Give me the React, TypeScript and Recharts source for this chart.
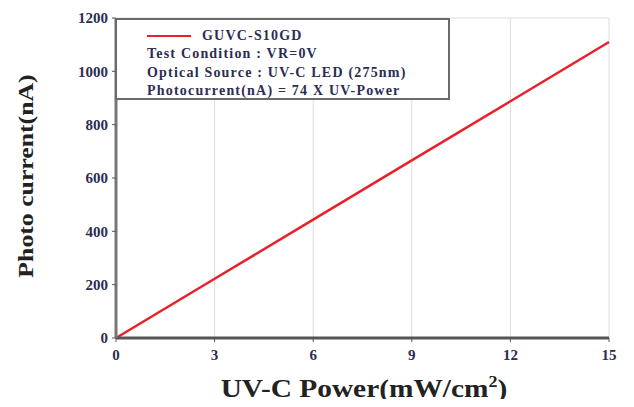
import {
  LineChart,
  Line,
  XAxis,
  YAxis,
  CartesianGrid,
  Legend,
} from "recharts";

const POWER = [0, 3, 6, 9, 12, 15];
const CURRENT = [0, 222, 444, 666, 888, 1110];
const X_TICKS = [0, 3, 6, 9, 12, 15];
const Y_TICKS = [0, 200, 400, 600, 800, 1000, 1200];
const X_MINOR = [1.5, 4.5, 7.5, 10.5, 13.5];
const Y_MINOR = [100, 300, 500, 700, 900, 1100];
const SERIES_NAME = "GUVC-S10GD";
const NOTES = [
  "Test Condition : VR=0V",
  "Optical Source : UV-C LED (275nm)",
  "Photocurrent(nA) = 74 X UV-Power",
];

const FONT = '"Liberation Serif", "Times New Roman", serif';
const INK = "#2b2d52";
const AXIS = "#555";

const data = POWER.map((p, i) => ({ power: p, current: CURRENT[i] }));

function LegendBox() {
  return (
    <div
      style={{
        width: 335,
        height: 82,
        boxSizing: "border-box",
        border: "2px solid #6a6a6a",
        background: "#fff",
        fontFamily: FONT,
        fontWeight: "bold",
        fontSize: 14,
        letterSpacing: 1.2,
        color: INK,
        padding: "7px 0 0 30px",
        lineHeight: "18.3px",
        textAlign: "left",
        whiteSpace: "nowrap",
        overflow: "hidden",
      }}
    >
      <div style={{ display: "flex", alignItems: "center" }}>
        <span
          style={{
            display: "inline-block",
            width: 44,
            height: 2,
            background: "#e8202a",
            marginRight: 11,
          }}
        />
        {SERIES_NAME}
      </div>
      {NOTES.map((n) => (
        <div key={n}>{n}</div>
      ))}
    </div>
  );
}

export default function App() {
  const tickStyle = {
    fill: INK,
    fontFamily: FONT,
    fontWeight: "bold" as const,
    fontSize: 15,
  };
  return (
    <div
      style={{
        position: "relative",
        width: 634,
        height: 407,
        margin: -8,
        background: "#fff",
        overflow: "hidden",
      }}
    >
      <LineChart
        width={634}
        height={407}
        data={data}
        margin={{ top: 18, right: 25, left: 56, bottom: 39 }}
      >
        <CartesianGrid stroke="#dcdcdc" strokeWidth={1} />
        <XAxis
          xAxisId="main"
          dataKey="power"
          type="number"
          domain={[0, 15]}
          ticks={X_TICKS}
          height={30}
          tick={tickStyle}
          tickSize={4}
          tickLine={{ stroke: AXIS }}
          axisLine={{ stroke: AXIS, strokeWidth: 3 }}
          tickMargin={7}
        />
        <XAxis
          xAxisId="minor"
          dataKey="power"
          type="number"
          domain={[0, 15]}
          ticks={X_MINOR}
          height={0}
          mirror
          tickSize={3}
          tickFormatter={() => ""}
          tickLine={{ stroke: AXIS }}
          axisLine={false}
        />
        <XAxis
          xAxisId="top"
          orientation="top"
          dataKey="power"
          type="number"
          domain={[0, 15]}
          height={0}
          tick={false}
          axisLine={{ stroke: "#333", strokeWidth: 2 }}
        />
        <YAxis
          yAxisId="main"
          type="number"
          domain={[0, 1200]}
          ticks={Y_TICKS}
          width={60}
          tick={tickStyle}
          tickSize={4}
          tickLine={{ stroke: AXIS }}
          axisLine={{ stroke: "#777", strokeWidth: 3 }}
          tickMargin={4}
        />
        <YAxis
          yAxisId="minor"
          type="number"
          domain={[0, 1200]}
          ticks={Y_MINOR}
          width={0}
          mirror
          tickSize={3}
          tickFormatter={() => ""}
          tickLine={{ stroke: AXIS }}
          axisLine={false}
        />
        <YAxis
          yAxisId="right"
          orientation="right"
          type="number"
          domain={[0, 1200]}
          ticks={Y_TICKS}
          width={0}
          mirror
          tickSize={4}
          tickFormatter={() => ""}
          tickLine={{ stroke: AXIS }}
          axisLine={{ stroke: "#333", strokeWidth: 2 }}
        />
        <Legend
          verticalAlign="middle"
          align="center"
          layout="horizontal"
          content={() => <LegendBox />}
          wrapperStyle={{ top: 18, left: 115, width: 335, height: 82 }}
        />
        <Line
          xAxisId="main"
          yAxisId="main"
          type="linear"
          dataKey="current"
          name={SERIES_NAME}
          stroke="#e8202a"
          strokeWidth={2.5}
          dot={false}
          isAnimationActive={false}
        />
      </LineChart>
      <div
        style={{
          position: "absolute",
          left: 26,
          top: 176,
          transform: "translate(-50%, -50%) rotate(-90deg) scaleX(1.17)",
          whiteSpace: "nowrap",
          fontFamily: FONT,
          fontWeight: "bold",
          fontSize: 22,
          color: "#222",
        }}
      >
        Photo current(nA)
      </div>
      <div
        style={{
          position: "absolute",
          left: 364,
          top: 389,
          transform: "translate(-50%, -50%) scaleX(1.13)",
          whiteSpace: "nowrap",
          fontFamily: FONT,
          fontWeight: "bold",
          fontSize: 26,
          lineHeight: "30px",
          color: "#222",
        }}
      >
        UV-C Power(mW/cm<sup style={{ fontSize: 16, lineHeight: 0 }}>2</sup>)
      </div>
    </div>
  );
}
